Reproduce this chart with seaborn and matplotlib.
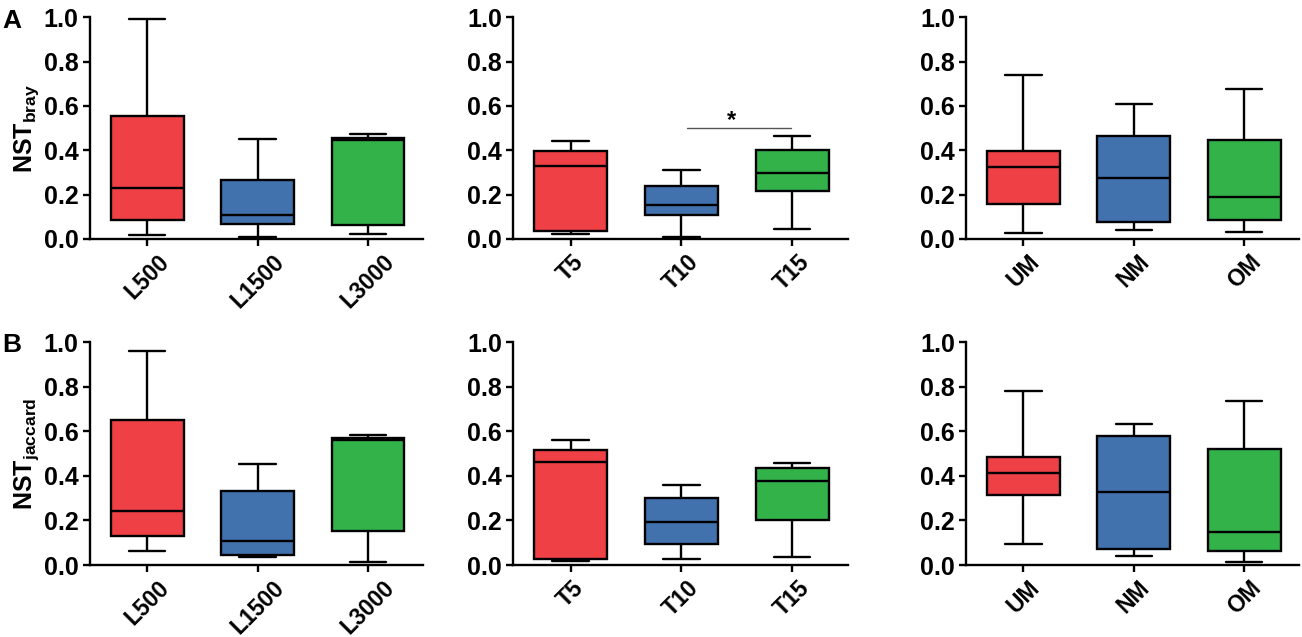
import pandas as pd
import seaborn as sns
import matplotlib.pyplot as plt

# five-number summaries (min, q1, median, q3, max)
site_labels = ['L500', 'L1500', 'L3000']
time_labels = ['T5', 'T10', 'T15']
mgmt_labels = ['UM', 'NM', 'OM']

bray_site = [[0.018, 0.083, 0.229, 0.556, 0.992],
             [0.008, 0.068, 0.108, 0.265, 0.450],
             [0.023, 0.062, 0.448, 0.454, 0.472]]
bray_time = [[0.024, 0.037, 0.328, 0.397, 0.443],
             [0.009, 0.107, 0.154, 0.240, 0.312],
             [0.046, 0.215, 0.296, 0.401, 0.466]]
bray_mgmt = [[0.028, 0.158, 0.323, 0.396, 0.740],
             [0.042, 0.076, 0.274, 0.466, 0.607],
             [0.030, 0.087, 0.188, 0.448, 0.677]]

jac_site = [[0.061, 0.131, 0.242, 0.651, 0.961],
            [0.037, 0.046, 0.109, 0.333, 0.451],
            [0.015, 0.154, 0.560, 0.569, 0.584]]
jac_time = [[0.018, 0.028, 0.460, 0.518, 0.561],
            [0.025, 0.096, 0.193, 0.300, 0.357],
            [0.037, 0.201, 0.375, 0.436, 0.457]]
jac_mgmt = [[0.093, 0.315, 0.413, 0.486, 0.779],
            [0.039, 0.070, 0.329, 0.580, 0.631],
            [0.013, 0.063, 0.148, 0.522, 0.734]]

colors = ['#EF4045', '#4172AE', '#34B24A']

sns.set_style('ticks')
plt.rcParams['font.family'] = ['Liberation Sans', 'DejaVu Sans']
plt.rcParams['font.weight'] = 'bold'
plt.rcParams['text.color'] = 'black'
plt.rcParams['axes.labelcolor'] = 'black'
plt.rcParams['axes.edgecolor'] = 'black'
plt.rcParams['xtick.color'] = 'black'
plt.rcParams['ytick.color'] = 'black'
plt.rcParams['mathtext.fontset'] = 'custom'
plt.rcParams['mathtext.bf'] = 'Liberation Sans:bold'
plt.rcParams['mathtext.rm'] = 'Liberation Sans:bold'

fig = plt.figure(figsize=(13.02, 6.37), dpi=100)

lefts = [0.069, 0.394, 0.742]
widths = [0.256, 0.257, 0.256]
rows = [(0.625, 0.348), (0.113, 0.350)]

panels = [
    [(bray_site, site_labels), (bray_time, time_labels), (bray_mgmt, mgmt_labels)],
    [(jac_site, site_labels), (jac_time, time_labels), (jac_mgmt, mgmt_labels)],
]
ylabels = [r'$\mathbf{NST}_\mathbf{bray}$', r'$\mathbf{NST}_\mathbf{jaccard}$']

axes = []
for r, row in enumerate(panels):
    for c, (vals, labels) in enumerate(row):
        ax = fig.add_axes([lefts[c], rows[r][0], widths[c], rows[r][1]])
        df = pd.DataFrame({
            'group': [lab for lab, v in zip(labels, vals) for _ in v],
            'value': [x for v in vals for x in v],
        })
        sns.boxplot(data=df, x='group', y='value', hue='group', order=labels,
                    hue_order=labels, palette=colors, whis=(0, 100), width=0.66,
                    linewidth=1.7, linecolor='black', fliersize=0, legend=False,
                    saturation=1, ax=ax)
        ax.set_ylim(0, 1.0)
        ax.set_xlim(-0.52, 2.5)
        ax.set_yticks([0, 0.2, 0.4, 0.6, 0.8, 1.0])
        ax.set_yticklabels(['0.0', '0.2', '0.4', '0.6', '0.8', '1.0'])
        ax.set_xlabel('')
        ax.set_ylabel(ylabels[r] if c == 0 else '', fontsize=18, labelpad=2)
        for s in ['top', 'right']:
            ax.spines[s].set_visible(False)
        for s in ['left', 'bottom']:
            ax.spines[s].set_linewidth(1.7)
        ax.tick_params(axis='both', width=1.7, length=5, labelsize=18, pad=3)
        for t in ax.get_xticklabels():
            t.set_rotation(45)
            t.set_ha('center')
            t.set_va('top')
            t.set_fontsize(16.5)
            t.set_fontweight('bold')
        for t in ax.get_yticklabels():
            t.set_fontweight('bold')
        axes.append(ax)

# significance bar T10 vs T15 (bray)
ax = axes[1]
ax.plot([1.05, 1.99], [0.5, 0.5], color='#555555', lw=1.0)
ax.text(1.45, 0.535, '*', ha='center', va='center', fontsize=17, fontweight='bold')

fig.text(0.002, 0.967, 'A', fontsize=19, fontweight='bold', va='center')
fig.text(0.002, 0.458, 'B', fontsize=19, fontweight='bold', va='center')

fig.savefig('out.png', dpi=100)
